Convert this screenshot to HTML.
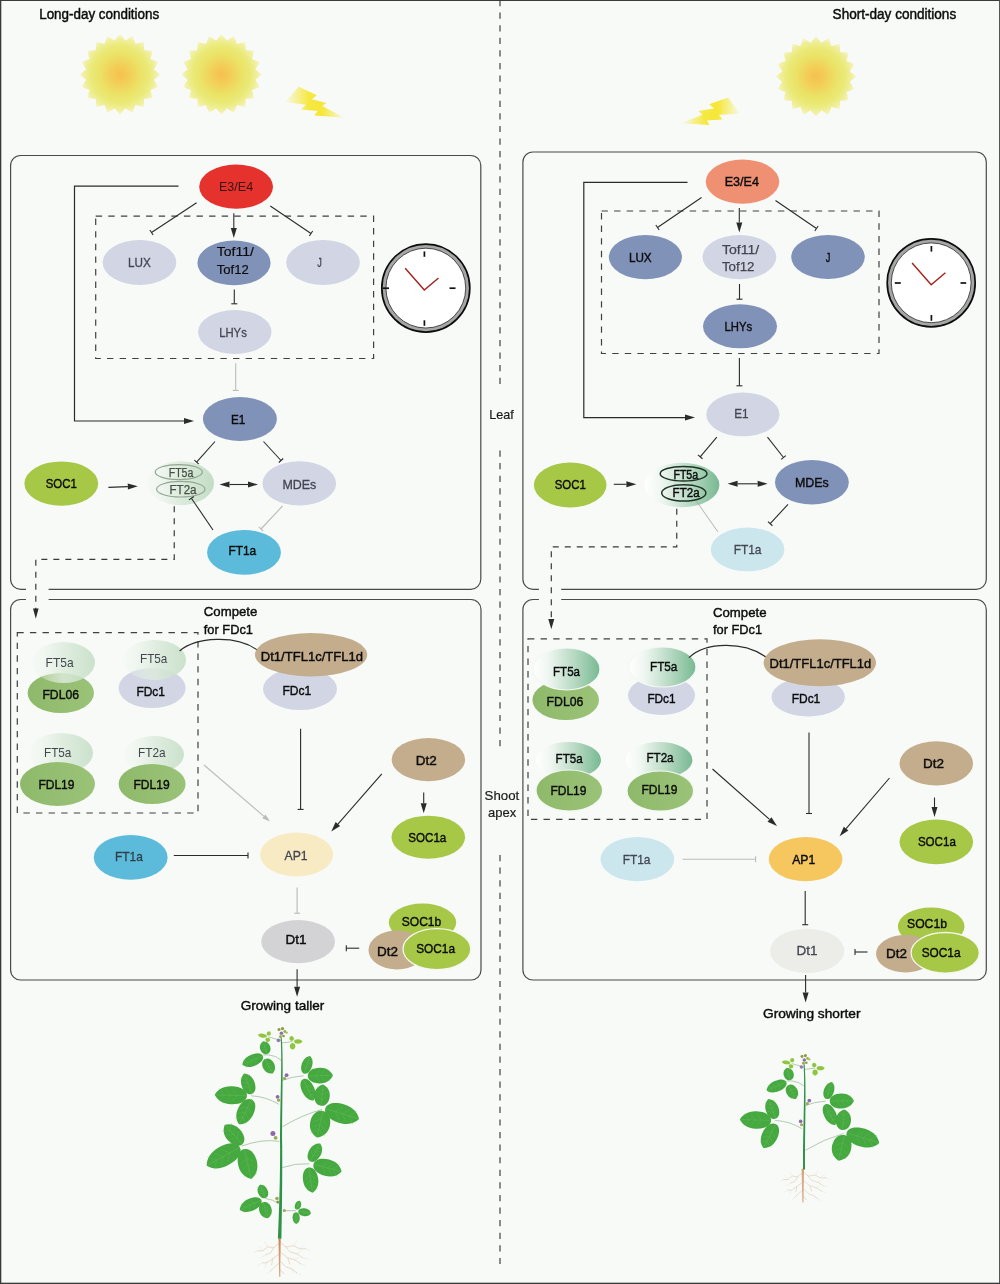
<!DOCTYPE html>
<html><head><meta charset="utf-8"><title>figure</title>
<style>
html,body{margin:0;padding:0;background:#f7faf7;}
svg{display:block;font-family:"Liberation Sans",sans-serif;}
</style></head><body>
<svg width="1000" height="1284" viewBox="0 0 1000 1284" style="opacity:0.9999">
<defs>
<radialGradient id="sun" cx="50%" cy="50%" r="50%">
<stop offset="0" stop-color="#f6c04f"/><stop offset="0.22" stop-color="#f3cd57"/>
<stop offset="0.5" stop-color="#ebe266"/><stop offset="0.72" stop-color="#eaea78"/>
<stop offset="0.9" stop-color="#f1f0a4"/><stop offset="1" stop-color="#f7f7d6"/></radialGradient>
<filter id="b1" x="-10%" y="-10%" width="120%" height="120%"><feGaussianBlur stdDeviation="0.75"/></filter>
<filter id="b2" x="-10%" y="-10%" width="120%" height="120%"><feGaussianBlur stdDeviation="0.6"/></filter>
<linearGradient id="boltL" x1="0" y1="0" x2="1" y2="0">
<stop offset="0" stop-color="#f6e738" stop-opacity="0.05"/><stop offset="0.4" stop-color="#f6e738" stop-opacity="0.95"/>
<stop offset="0.62" stop-color="#f6e738" stop-opacity="1"/><stop offset="1" stop-color="#f6e738" stop-opacity="0.05"/></linearGradient>
<linearGradient id="ftL" x1="0" y1="0" x2="1" y2="0">
<stop offset="0" stop-color="#eef5ee" stop-opacity="0.2"/><stop offset="0.5" stop-color="#dcebdc"/>
<stop offset="1" stop-color="#c3ddc4"/></linearGradient>
<linearGradient id="ftR" x1="0" y1="0" x2="1" y2="0">
<stop offset="0" stop-color="#ffffff"/><stop offset="0.22" stop-color="#f0f7f2"/><stop offset="0.6" stop-color="#b9dac4"/>
<stop offset="1" stop-color="#78b992"/></linearGradient>
<linearGradient id="fdl" x1="0" y1="0" x2="1" y2="0">
<stop offset="0" stop-color="#8fb96a"/><stop offset="1" stop-color="#9ac378"/></linearGradient>
<path id="leaf" d="M-0.5,0 C-0.5,-0.3 -0.3,-0.5 -0.02,-0.5 C0.26,-0.5 0.42,-0.27 0.5,0 C0.42,0.27 0.26,0.5 -0.02,0.5 C-0.3,0.5 -0.5,0.3 -0.5,0Z"/>
</defs>
<rect x="0" y="0" width="1000" height="1284" fill="#f7faf7"/>

<rect x="0" y="0" width="1000" height="1.0" fill="#3a3a3a"/>
<rect x="0" y="0" width="1.3" height="1284" fill="#3a3a3a"/>
<rect x="999.1" y="0" width="0.9" height="1284" fill="#444"/>
<rect x="0" y="1282.7" width="1000" height="1.3" fill="#3a3a3a"/>
<line x1="500" y1="0" x2="500" y2="384" stroke="#3a3a3a" stroke-width="1.15" stroke-dasharray="6.2 6.39"/>
<line x1="500" y1="450.5" x2="500" y2="751.5" stroke="#3a3a3a" stroke-width="1.15" stroke-dasharray="6.2 6.39"/>
<line x1="500" y1="855" x2="500" y2="1264" stroke="#3a3a3a" stroke-width="1.15" stroke-dasharray="6.2 6.39"/>
<text x="39.20" y="18.80" textLength="120.00" lengthAdjust="spacingAndGlyphs" font-size="14" fill="#0c0c0c" stroke="#0c0c0c" stroke-width="0.45">Long-day conditions</text>
<text x="832.60" y="18.80" textLength="123.60" lengthAdjust="spacingAndGlyphs" font-size="14" fill="#0c0c0c" stroke="#0c0c0c" stroke-width="0.45">Short-day conditions</text>
<text x="489.20" y="418.80" textLength="24.60" lengthAdjust="spacingAndGlyphs" font-size="13.5" fill="#1a1a1a" stroke="#1a1a1a" stroke-width="0.2">Leaf</text>
<text x="484.60" y="799.80" textLength="34.60" lengthAdjust="spacingAndGlyphs" font-size="13.5" fill="#1a1a1a" stroke="#1a1a1a" stroke-width="0.2">Shoot</text>
<text x="488.00" y="817.40" textLength="28.20" lengthAdjust="spacingAndGlyphs" font-size="13.5" fill="#1a1a1a" stroke="#1a1a1a" stroke-width="0.2">apex</text>
<polygon filter="url(#b1)" fill="url(#sun)" points="120.00,34.10 125.35,40.72 132.48,36.08 135.53,44.03 143.75,41.82 144.18,50.32 152.68,50.75 150.47,58.97 158.42,62.02 153.78,69.15 160.40,74.50 153.78,79.85 158.42,86.98 150.47,90.03 152.68,98.25 144.18,98.68 143.75,107.18 135.53,104.97 132.48,112.92 125.35,108.28 120.00,114.90 114.65,108.28 107.52,112.92 104.47,104.97 96.25,107.18 95.82,98.68 87.32,98.25 89.53,90.03 81.58,86.98 86.22,79.85 79.60,74.50 86.22,69.15 81.58,62.02 89.53,58.97 87.32,50.75 95.82,50.32 96.25,41.82 104.47,44.03 107.52,36.08 114.65,40.72"/>
<polygon filter="url(#b1)" fill="url(#sun)" points="221.50,34.10 226.85,40.72 233.98,36.08 237.03,44.03 245.25,41.82 245.68,50.32 254.18,50.75 251.97,58.97 259.92,62.02 255.28,69.15 261.90,74.50 255.28,79.85 259.92,86.98 251.97,90.03 254.18,98.25 245.68,98.68 245.25,107.18 237.03,104.97 233.98,112.92 226.85,108.28 221.50,114.90 216.15,108.28 209.02,112.92 205.97,104.97 197.75,107.18 197.32,98.68 188.82,98.25 191.03,90.03 183.08,86.98 187.72,79.85 181.10,74.50 187.72,69.15 183.08,62.02 191.03,58.97 188.82,50.75 197.32,50.32 197.75,41.82 205.97,44.03 209.02,36.08 216.15,40.72"/>
<polygon filter="url(#b1)" fill="url(#sun)" points="816.00,36.10 821.35,42.72 828.48,38.08 831.53,46.03 839.75,43.82 840.18,52.32 848.68,52.75 846.47,60.97 854.42,64.02 849.78,71.15 856.40,76.50 849.78,81.85 854.42,88.98 846.47,92.03 848.68,100.25 840.18,100.68 839.75,109.18 831.53,106.97 828.48,114.92 821.35,110.28 816.00,116.90 810.65,110.28 803.52,114.92 800.47,106.97 792.25,109.18 791.82,100.68 783.32,100.25 785.53,92.03 777.58,88.98 782.22,81.85 775.60,76.50 782.22,71.15 777.58,64.02 785.53,60.97 783.32,52.75 791.82,52.32 792.25,43.82 800.47,46.03 803.52,38.08 810.65,42.72"/>
<polygon filter="url(#b2)" fill="url(#boltL)" points="298.8,86.7 316.8,95.2 311.9,99.3 326.7,102.9 322.2,106 344.7,117.7 314.1,115.5 317.7,111 301,109.6 306,104.7 284.9,102"/>
<polygon filter="url(#b2)" fill="url(#boltL)" points="728,97.6 709.1,104.3 714.1,108.4 698.3,111 702.4,114.7 681.2,123.2 709.6,125 706.9,120.5 722.6,119.6 719,114.7 740.2,113.8"/>
<rect x="10.6" y="155.5" width="470.20" height="433.80" rx="10" ry="10" fill="none" stroke="#4a4a4a" stroke-width="1.2"/>
<rect x="10.6" y="599.5" width="470.40" height="380.50" rx="10" ry="10" fill="none" stroke="#4a4a4a" stroke-width="1.2"/>
<rect x="522.9" y="152" width="463.40" height="437.30" rx="10" ry="10" fill="none" stroke="#4a4a4a" stroke-width="1.2"/>
<rect x="522.9" y="599.5" width="463.40" height="380.50" rx="10" ry="10" fill="none" stroke="#4a4a4a" stroke-width="1.2"/>
<rect x="26" y="585" width="22.6" height="18" fill="#f7faf7"/>
<rect x="538.9" y="585" width="22.3" height="18" fill="#f7faf7"/>
<polyline points="178.5,186.2 74.5,186.2 74.5,421 185,421" fill="none" stroke="#2b2b2b" stroke-width="1.2"/>
<polygon points="194.00,421.00 184.00,424.00 184.00,418.00" fill="#2b2b2b"/>
<rect x="95.7" y="216.2" width="277.90" height="142.30" fill="none" stroke="#404040" stroke-width="1.2" stroke-dasharray="6.4 6.2"/>
<ellipse cx="236.1" cy="186.7" rx="36.9" ry="22.1" fill="#e5322c" />
<text x="218.99" y="191.00" textLength="34.21" lengthAdjust="spacingAndGlyphs" font-size="13.5" fill="#3b1212">E3/E4</text>
<line x1="196.6" y1="202.7" x2="151.5" y2="232.5" stroke="#2b2b2b" stroke-width="1.1" />
<line x1="149.85" y1="230.00" x2="153.15" y2="235.00" stroke="#2b2b2b" stroke-width="1.1" />
<line x1="270.3" y1="206" x2="311" y2="233.5" stroke="#2b2b2b" stroke-width="1.1" />
<line x1="309.32" y1="235.99" x2="312.68" y2="231.01" stroke="#2b2b2b" stroke-width="1.1" />
<polygon points="233.80,238.00 230.80,228.00 236.80,228.00" fill="#2b2b2b"/>
<line x1="233.80" y1="213.20" x2="233.80" y2="228.00" stroke="#2b2b2b" stroke-width="1.1" />
<ellipse cx="139.5" cy="262.5" rx="36.8" ry="22.4" fill="#d1d5e4" />
<text x="128.12" y="267.00" textLength="22.77" lengthAdjust="spacingAndGlyphs" font-size="13.5" fill="#43464f" stroke="#43464f" stroke-width="0.3">LUX</text>
<ellipse cx="234" cy="262.9" rx="36.6" ry="22.4" fill="#8192b9" />
<text x="216.70" y="256.40" textLength="37.20" lengthAdjust="spacingAndGlyphs" font-size="13.5" fill="#0c0c0c" stroke="#0c0c0c" stroke-width="0.2">Tof11/</text>
<text x="216.80" y="274.20" textLength="32.00" lengthAdjust="spacingAndGlyphs" font-size="13.5" fill="#0c0c0c" stroke="#0c0c0c" stroke-width="0.2">Tof12</text>
<ellipse cx="323" cy="262.5" rx="36.8" ry="22.4" fill="#d1d5e4" />
<text x="317.30" y="267.00" textLength="4.59" lengthAdjust="spacingAndGlyphs" font-size="13.5" fill="#43464f" stroke="#43464f" stroke-width="0.3">J</text>
<line x1="234.3" y1="289.5" x2="234.3" y2="303.8" stroke="#2b2b2b" stroke-width="1.1" />
<line x1="231.30" y1="303.80" x2="237.30" y2="303.80" stroke="#2b2b2b" stroke-width="1.1" />
<ellipse cx="234.8" cy="332" rx="36.7" ry="22" fill="#d1d5e4" />
<text x="219.17" y="336.80" textLength="27.66" lengthAdjust="spacingAndGlyphs" font-size="13.5" fill="#43464f" stroke="#43464f" stroke-width="0.3">LHYs</text>
<line x1="235.7" y1="363.2" x2="235.7" y2="390.4" stroke="#b9bcbc" stroke-width="1.1" />
<line x1="232.70" y1="390.40" x2="238.70" y2="390.40" stroke="#b9bcbc" stroke-width="1.1" />
<ellipse cx="239.9" cy="419" rx="37" ry="22" fill="#8192b9" />
<text x="231.04" y="423.60" textLength="14.33" lengthAdjust="spacingAndGlyphs" font-size="13.5" fill="#0c0c0c" stroke="#0c0c0c" stroke-width="0.42">E1</text>
<line x1="215" y1="441.5" x2="196.6" y2="462.2" stroke="#2b2b2b" stroke-width="1.1" />
<line x1="194.36" y1="460.21" x2="198.84" y2="464.19" stroke="#2b2b2b" stroke-width="1.1" />
<line x1="263.5" y1="441.5" x2="281" y2="460.5" stroke="#2b2b2b" stroke-width="1.1" />
<line x1="278.79" y1="462.53" x2="283.21" y2="458.47" stroke="#2b2b2b" stroke-width="1.1" />
<ellipse cx="61.3" cy="483.6" rx="36.9" ry="22.2" fill="#a7c746" />
<text x="45.74" y="487.80" textLength="31.12" lengthAdjust="spacingAndGlyphs" font-size="13.5" fill="#0c0c0c" stroke="#0c0c0c" stroke-width="0.42">SOC1</text>
<polygon points="137.80,486.20 127.93,489.61 127.69,483.61" fill="#2b2b2b"/>
<line x1="108.40" y1="487.40" x2="127.81" y2="486.61" stroke="#2b2b2b" stroke-width="1.1" />
<ellipse cx="180.7" cy="483.2" rx="33.3" ry="22" fill="url(#ftL)" />
<ellipse cx="178.8" cy="472.1" rx="23.6" ry="7.5" fill="none" stroke="#93a593" stroke-width="1.15"/>
<ellipse cx="180.8" cy="489.2" rx="24.2" ry="7.8" fill="none" stroke="#93a593" stroke-width="1.15"/>
<text x="168.70" y="476.60" textLength="24.60" lengthAdjust="spacingAndGlyphs" font-size="12" fill="#465046" stroke="#465046" stroke-width="0.25">FT5a</text>
<text x="169.50" y="494.00" textLength="27.00" lengthAdjust="spacingAndGlyphs" font-size="12" fill="#465046" stroke="#465046" stroke-width="0.25">FT2a</text>
<polygon points="258.00,484.50 248.00,487.50 248.00,481.50" fill="#2b2b2b"/>
<polygon points="219.50,484.50 229.50,481.50 229.50,487.50" fill="#2b2b2b"/>
<line x1="229.50" y1="484.50" x2="248.00" y2="484.50" stroke="#2b2b2b" stroke-width="1.1" />
<ellipse cx="299.3" cy="483.4" rx="36.8" ry="22.1" fill="#d1d5e4" />
<text x="282.39" y="488.60" textLength="33.83" lengthAdjust="spacingAndGlyphs" font-size="13.5" fill="#43464f" stroke="#43464f" stroke-width="0.3">MDEs</text>
<line x1="282.5" y1="506" x2="261" y2="529" stroke="#b9bcbc" stroke-width="1.1" />
<line x1="258.81" y1="526.95" x2="263.19" y2="531.05" stroke="#b9bcbc" stroke-width="1.1" />
<ellipse cx="244" cy="552.4" rx="36.9" ry="22.4" fill="#5cbbda" />
<text x="228.39" y="554.80" textLength="27.82" lengthAdjust="spacingAndGlyphs" font-size="13.5" fill="#0c0c0c" stroke="#0c0c0c" stroke-width="0.42">FT1a</text>
<line x1="213" y1="530" x2="191.4" y2="498.2" stroke="#2b2b2b" stroke-width="1.1" />
<line x1="193.88" y1="496.51" x2="188.92" y2="499.89" stroke="#2b2b2b" stroke-width="1.1" />
<polyline points="174.25,506.3 174.25,559.4 35.8,559.4 35.8,610" fill="none" stroke="#3a3a3a" stroke-width="1.2" stroke-dasharray="6 6"/>
<polygon points="35.80,618.80 33.00,608.60 38.60,608.60" fill="#2b2b2b"/>
<text x="203.80" y="616.40" textLength="53.50" lengthAdjust="spacingAndGlyphs" font-size="13.5" fill="#0c0c0c" stroke="#0c0c0c" stroke-width="0.42">Compete</text>
<text x="203.80" y="633.70" textLength="49.12" lengthAdjust="spacingAndGlyphs" font-size="13.5" fill="#0c0c0c" stroke="#0c0c0c" stroke-width="0.42">for FDc1</text>
<rect x="17.3" y="632.7" width="180.70" height="180.30" fill="none" stroke="#404040" stroke-width="1.2" stroke-dasharray="6.4 6.2"/>
<ellipse cx="60.8" cy="693" rx="33.2" ry="20" fill="url(#fdl)" />
<ellipse cx="63.5" cy="662.5" rx="31.5" ry="20.5" fill="url(#ftL)" opacity="0.85"/>
<text x="45.60" y="667.00" textLength="28.00" lengthAdjust="spacingAndGlyphs" font-size="13.5" fill="#43464f">FT5a</text>
<text x="42.40" y="699.00" textLength="36.60" lengthAdjust="spacingAndGlyphs" font-size="13.5" fill="#0c0c0c" stroke="#0c0c0c" stroke-width="0.42">FDL06</text>
<ellipse cx="152.1" cy="688" rx="33.5" ry="20" fill="#d1d5e4" />
<ellipse cx="154.5" cy="660" rx="31.5" ry="20" fill="url(#ftL)" opacity="0.85"/>
<text x="140.00" y="663.00" textLength="27.40" lengthAdjust="spacingAndGlyphs" font-size="13.5" fill="#43464f">FT5a</text>
<text x="136.40" y="696.00" textLength="28.60" lengthAdjust="spacingAndGlyphs" font-size="13.5" fill="#0c0c0c" stroke="#0c0c0c" stroke-width="0.42">FDc1</text>
<ellipse cx="61" cy="753" rx="32" ry="20" fill="url(#ftL)" opacity="0.85"/>
<ellipse cx="57.5" cy="784" rx="37.5" ry="22" fill="url(#fdl)" />
<text x="44.00" y="756.60" textLength="27.40" lengthAdjust="spacingAndGlyphs" font-size="13.5" fill="#43464f">FT5a</text>
<text x="38.40" y="789.00" textLength="36.00" lengthAdjust="spacingAndGlyphs" font-size="13.5" fill="#0c0c0c" stroke="#0c0c0c" stroke-width="0.42">FDL19</text>
<ellipse cx="154" cy="754.5" rx="30" ry="18.5" fill="url(#ftL)" opacity="0.85"/>
<ellipse cx="152.1" cy="784" rx="33.5" ry="20" fill="url(#fdl)" />
<text x="138.00" y="757.40" textLength="27.60" lengthAdjust="spacingAndGlyphs" font-size="13.5" fill="#43464f">FT2a</text>
<text x="133.40" y="789.00" textLength="36.20" lengthAdjust="spacingAndGlyphs" font-size="13.5" fill="#0c0c0c" stroke="#0c0c0c" stroke-width="0.42">FDL19</text>
<path d="M179.6,651 C196,637 236,634.5 257.5,650.2" fill="none" stroke="#2b2b2b" stroke-width="1.2"/>
<ellipse cx="300" cy="689" rx="37" ry="21" fill="#d1d5e4" />
<text x="282.50" y="695.00" textLength="28.80" lengthAdjust="spacingAndGlyphs" font-size="13.5" fill="#0c0c0c" stroke="#0c0c0c" stroke-width="0.42">FDc1</text>
<ellipse cx="311.1" cy="654.7" rx="56.1" ry="21.7" fill="#c3ad8c" />
<text x="260.75" y="660.60" textLength="102.30" lengthAdjust="spacingAndGlyphs" font-size="13.5" fill="#0c0c0c" stroke="#0c0c0c" stroke-width="0.42">Dt1/TFL1c/TFL1d</text>
<line x1="300.6" y1="728.7" x2="300.6" y2="809.4" stroke="#2b2b2b" stroke-width="1.1" />
<line x1="297.60" y1="809.40" x2="303.60" y2="809.40" stroke="#2b2b2b" stroke-width="1.1" />
<polygon points="270.00,821.50 262.30,818.20 265.55,814.40" fill="#b9bcbc"/>
<line x1="204.00" y1="765.00" x2="263.92" y2="816.30" stroke="#b9bcbc" stroke-width="1.1" />
<ellipse cx="428.4" cy="759.6" rx="36.7" ry="21.6" fill="#c3ad8c" />
<text x="415.81" y="764.60" textLength="20.98" lengthAdjust="spacingAndGlyphs" font-size="13.5" fill="#0c0c0c" stroke="#0c0c0c" stroke-width="0.42">Dt2</text>
<polygon points="331.30,831.60 335.62,822.10 340.14,826.04" fill="#2b2b2b"/>
<line x1="381.80" y1="773.80" x2="337.88" y2="824.07" stroke="#2b2b2b" stroke-width="1.1" />
<polygon points="423.70,813.30 420.70,803.30 426.70,803.30" fill="#2b2b2b"/>
<line x1="423.70" y1="792.50" x2="423.70" y2="803.30" stroke="#2b2b2b" stroke-width="1.1" />
<ellipse cx="428.3" cy="837.2" rx="36.8" ry="21.5" fill="#a7c746" />
<text x="408.29" y="842.00" textLength="38.02" lengthAdjust="spacingAndGlyphs" font-size="13.5" fill="#0c0c0c" stroke="#0c0c0c" stroke-width="0.42">SOC1a</text>
<ellipse cx="130.7" cy="857.4" rx="36.9" ry="22.4" fill="#5cbbda" />
<text x="114.99" y="860.80" textLength="27.82" lengthAdjust="spacingAndGlyphs" font-size="13.5" fill="#2f3d48" stroke="#2f3d48" stroke-width="0.3">FT1a</text>
<line x1="173.8" y1="855.5" x2="248" y2="855.5" stroke="#2b2b2b" stroke-width="1.1" />
<line x1="248.00" y1="858.50" x2="248.00" y2="852.50" stroke="#2b2b2b" stroke-width="1.1" />
<ellipse cx="296.6" cy="854.5" rx="36.5" ry="21.9" fill="#f8ebc3" />
<text x="284.56" y="860.00" textLength="23.08" lengthAdjust="spacingAndGlyphs" font-size="13.5" fill="#43464f" stroke="#43464f" stroke-width="0.3">AP1</text>
<line x1="297.1" y1="887.5" x2="297.1" y2="913.2" stroke="#b9bcbc" stroke-width="1.1" />
<line x1="294.10" y1="913.20" x2="300.10" y2="913.20" stroke="#b9bcbc" stroke-width="1.1" />
<ellipse cx="298.1" cy="941.6" rx="36.9" ry="21.6" fill="#d3d2d4" />
<text x="285.41" y="944.40" textLength="20.98" lengthAdjust="spacingAndGlyphs" font-size="13.5" fill="#0c0c0c" stroke="#0c0c0c" stroke-width="0.42">Dt1</text>
<line x1="359.2" y1="948.2" x2="346.3" y2="948.2" stroke="#2b2b2b" stroke-width="1.1" />
<line x1="346.30" y1="945.20" x2="346.30" y2="951.20" stroke="#2b2b2b" stroke-width="1.1" />
<ellipse cx="422.5" cy="922.6" rx="33.7" ry="19" fill="#a7c746" />
<ellipse cx="397" cy="950" rx="28.5" ry="19.5" fill="#c3ad8c" />
<ellipse cx="436.9" cy="949.1" rx="33.9" ry="20.5" fill="#a7c746" stroke="#f4f7ee" stroke-width="1.3"/>
<text x="401.75" y="925.80" textLength="39.50" lengthAdjust="spacingAndGlyphs" font-size="13.5" fill="#0c0c0c" stroke="#0c0c0c" stroke-width="0.42">SOC1b</text>
<text x="377.01" y="955.50" textLength="20.98" lengthAdjust="spacingAndGlyphs" font-size="13.5" fill="#0c0c0c" stroke="#0c0c0c" stroke-width="0.42">Dt2</text>
<text x="416.20" y="952.60" textLength="38.80" lengthAdjust="spacingAndGlyphs" font-size="13.5" fill="#0c0c0c" stroke="#0c0c0c" stroke-width="0.42">SOC1a</text>
<polygon points="297.10,996.80 294.10,986.80 300.10,986.80" fill="#2b2b2b"/>
<line x1="297.10" y1="969.20" x2="297.10" y2="986.80" stroke="#2b2b2b" stroke-width="1.1" />
<text x="240.80" y="1010.00" textLength="83.40" lengthAdjust="spacingAndGlyphs" font-size="13.5" fill="#0c0c0c" stroke="#0c0c0c" stroke-width="0.42">Growing taller</text>
<polyline points="687.5,182.4 583.8,182.4 583.8,417.6 686,417.6" fill="none" stroke="#2b2b2b" stroke-width="1.2"/>
<polygon points="695.00,417.60 685.00,420.60 685.00,414.60" fill="#2b2b2b"/>
<rect x="601.5" y="211" width="277.50" height="142.50" fill="none" stroke="#404040" stroke-width="1.2" stroke-dasharray="6.4 6.2"/>
<ellipse cx="742.5" cy="181.6" rx="36.8" ry="22.1" fill="#f09072" />
<text x="724.69" y="186.30" textLength="34.21" lengthAdjust="spacingAndGlyphs" font-size="13.5" fill="#0c0c0c" stroke="#0c0c0c" stroke-width="0.42">E3/E4</text>
<line x1="701.5" y1="197.5" x2="657.5" y2="227.5" stroke="#2b2b2b" stroke-width="1.1" />
<line x1="655.81" y1="225.02" x2="659.19" y2="229.98" stroke="#2b2b2b" stroke-width="1.1" />
<line x1="775.5" y1="200.5" x2="816.5" y2="228.5" stroke="#2b2b2b" stroke-width="1.1" />
<line x1="814.81" y1="230.98" x2="818.19" y2="226.02" stroke="#2b2b2b" stroke-width="1.1" />
<polygon points="739.30,232.50 736.30,222.50 742.30,222.50" fill="#2b2b2b"/>
<line x1="739.30" y1="208.00" x2="739.30" y2="222.50" stroke="#2b2b2b" stroke-width="1.1" />
<ellipse cx="645.4" cy="257.1" rx="36.6" ry="22.1" fill="#8192b9" />
<text x="628.92" y="261.80" textLength="22.77" lengthAdjust="spacingAndGlyphs" font-size="13.5" fill="#0c0c0c" stroke="#0c0c0c" stroke-width="0.42">LUX</text>
<ellipse cx="739.4" cy="257.1" rx="36.9" ry="22.1" fill="#d1d5e4" />
<text x="721.95" y="253.70" textLength="37.30" lengthAdjust="spacingAndGlyphs" font-size="13.5" fill="#43464f" stroke="#43464f" stroke-width="0.25">Tof11/</text>
<text x="721.95" y="271.20" textLength="32.50" lengthAdjust="spacingAndGlyphs" font-size="13.5" fill="#43464f" stroke="#43464f" stroke-width="0.25">Tof12</text>
<ellipse cx="828" cy="257" rx="36.8" ry="22" fill="#8192b9" />
<text x="825.70" y="261.80" textLength="4.59" lengthAdjust="spacingAndGlyphs" font-size="13.5" fill="#0c0c0c" stroke="#0c0c0c" stroke-width="0.42">J</text>
<line x1="739.5" y1="284" x2="739.5" y2="299.2" stroke="#2b2b2b" stroke-width="1.1" />
<line x1="736.50" y1="299.20" x2="742.50" y2="299.20" stroke="#2b2b2b" stroke-width="1.1" />
<ellipse cx="740" cy="326.3" rx="37" ry="22" fill="#8192b9" />
<text x="724.47" y="331.30" textLength="27.66" lengthAdjust="spacingAndGlyphs" font-size="13.5" fill="#0c0c0c" stroke="#0c0c0c" stroke-width="0.42">LHYs</text>
<line x1="739.4" y1="358" x2="739.4" y2="385.8" stroke="#2b2b2b" stroke-width="1.1" />
<line x1="736.40" y1="385.80" x2="742.40" y2="385.80" stroke="#2b2b2b" stroke-width="1.1" />
<ellipse cx="742.9" cy="414.4" rx="36.6" ry="21.9" fill="#d1d5e4" />
<text x="734.14" y="418.20" textLength="14.33" lengthAdjust="spacingAndGlyphs" font-size="13.5" fill="#43464f" stroke="#43464f" stroke-width="0.3">E1</text>
<line x1="716.8" y1="437.2" x2="700.2" y2="456.8" stroke="#2b2b2b" stroke-width="1.1" />
<line x1="697.91" y1="454.86" x2="702.49" y2="458.74" stroke="#2b2b2b" stroke-width="1.1" />
<line x1="767.5" y1="437.2" x2="783.5" y2="457.5" stroke="#2b2b2b" stroke-width="1.1" />
<line x1="781.14" y1="459.36" x2="785.86" y2="455.64" stroke="#2b2b2b" stroke-width="1.1" />
<ellipse cx="570.2" cy="485" rx="36.3" ry="22.4" fill="#a7c746" />
<text x="554.64" y="489.40" textLength="31.12" lengthAdjust="spacingAndGlyphs" font-size="13.5" fill="#0c0c0c" stroke="#0c0c0c" stroke-width="0.42">SOC1</text>
<polygon points="636.40,484.30 626.40,487.30 626.40,481.30" fill="#2b2b2b"/>
<line x1="613.80" y1="484.30" x2="626.40" y2="484.30" stroke="#2b2b2b" stroke-width="1.1" />
<ellipse cx="681.9" cy="485" rx="37.5" ry="22.2" fill="url(#ftR)" />
<ellipse cx="683.6" cy="473.7" rx="23.4" ry="7.3" fill="none" stroke="#1d3323" stroke-width="1.45"/>
<ellipse cx="683.8" cy="492.9" rx="22.1" ry="8.2" fill="none" stroke="#1d3323" stroke-width="1.45"/>
<text x="673.45" y="478.60" textLength="24.70" lengthAdjust="spacingAndGlyphs" font-size="12.3" fill="#0c0c0c" stroke="#0c0c0c" stroke-width="0.45">FT5a</text>
<text x="672.60" y="496.90" textLength="27.00" lengthAdjust="spacingAndGlyphs" font-size="12.6" fill="#0c0c0c" stroke="#0c0c0c" stroke-width="0.45">FT2a</text>
<polygon points="767.60,483.80 757.60,486.80 757.60,480.80" fill="#2b2b2b"/>
<polygon points="727.60,483.80 737.60,480.80 737.60,486.80" fill="#2b2b2b"/>
<line x1="737.60" y1="483.80" x2="757.60" y2="483.80" stroke="#2b2b2b" stroke-width="1.1" />
<ellipse cx="811.9" cy="482.2" rx="36.9" ry="22.2" fill="#8192b9" />
<text x="794.99" y="486.60" textLength="33.83" lengthAdjust="spacingAndGlyphs" font-size="13.5" fill="#0c0c0c" stroke="#0c0c0c" stroke-width="0.42">MDEs</text>
<line x1="788" y1="504.3" x2="770.2" y2="523.7" stroke="#2b2b2b" stroke-width="1.1" />
<line x1="767.99" y1="521.67" x2="772.41" y2="525.73" stroke="#2b2b2b" stroke-width="1.1" />
<ellipse cx="747.6" cy="549.4" rx="36.8" ry="21.9" fill="#cce6ee" />
<text x="733.69" y="553.80" textLength="27.82" lengthAdjust="spacingAndGlyphs" font-size="13.5" fill="#43464f" stroke="#43464f" stroke-width="0.3">FT1a</text>
<line x1="718" y1="532" x2="696.3" y2="501" stroke="#a9acac" stroke-width="0.9" />
<polyline points="676.75,508.8 676.75,546.8 551.3,546.8 551.3,620" fill="none" stroke="#3a3a3a" stroke-width="1.2" stroke-dasharray="6 6"/>
<polygon points="551.30,629.30 548.30,618.90 554.30,618.90" fill="#2b2b2b"/>
<text x="713.00" y="617.00" textLength="53.50" lengthAdjust="spacingAndGlyphs" font-size="13.5" fill="#0c0c0c" stroke="#0c0c0c" stroke-width="0.42">Compete</text>
<text x="713.00" y="634.40" textLength="49.12" lengthAdjust="spacingAndGlyphs" font-size="13.5" fill="#0c0c0c" stroke="#0c0c0c" stroke-width="0.42">for FDc1</text>
<rect x="528" y="638.9" width="179.00" height="180.50" fill="none" stroke="#404040" stroke-width="1.2" stroke-dasharray="6.4 6.2"/>
<ellipse cx="565.7" cy="700" rx="33.3" ry="20" fill="url(#fdl)" />
<ellipse cx="566.5" cy="669" rx="33.5" ry="21" fill="url(#ftR)" stroke="#f4f8f3" stroke-width="1.2"/>
<text x="553.00" y="675.60" textLength="27.00" lengthAdjust="spacingAndGlyphs" font-size="13.5" fill="#0c0c0c" stroke="#0c0c0c" stroke-width="0.42">FT5a</text>
<text x="546.60" y="706.00" textLength="36.80" lengthAdjust="spacingAndGlyphs" font-size="13.5" fill="#0c0c0c" stroke="#0c0c0c" stroke-width="0.42">FDL06</text>
<ellipse cx="661.5" cy="695.5" rx="33.5" ry="19.5" fill="#d1d5e4" />
<ellipse cx="662.5" cy="667" rx="33.5" ry="20" fill="url(#ftR)" stroke="#f4f8f3" stroke-width="1.2"/>
<text x="650.00" y="671.40" textLength="27.40" lengthAdjust="spacingAndGlyphs" font-size="13.5" fill="#0c0c0c" stroke="#0c0c0c" stroke-width="0.42">FT5a</text>
<text x="647.40" y="703.00" textLength="28.20" lengthAdjust="spacingAndGlyphs" font-size="13.5" fill="#0c0c0c" stroke="#0c0c0c" stroke-width="0.42">FDc1</text>
<ellipse cx="568.5" cy="760" rx="32.5" ry="18" fill="url(#ftR)" />
<ellipse cx="569.3" cy="790.5" rx="33.3" ry="20.5" fill="url(#fdl)" stroke="#f4f8f3" stroke-width="1.2"/>
<text x="555.60" y="763.00" textLength="27.00" lengthAdjust="spacingAndGlyphs" font-size="13.5" fill="#0c0c0c" stroke="#0c0c0c" stroke-width="0.42">FT5a</text>
<text x="550.40" y="795.00" textLength="36.00" lengthAdjust="spacingAndGlyphs" font-size="13.5" fill="#0c0c0c" stroke="#0c0c0c" stroke-width="0.42">FDL19</text>
<ellipse cx="659.2" cy="760" rx="33.2" ry="18" fill="url(#ftR)" />
<ellipse cx="660.3" cy="791" rx="33.3" ry="20" fill="url(#fdl)" stroke="#f4f8f3" stroke-width="1.2"/>
<text x="646.40" y="762.00" textLength="27.20" lengthAdjust="spacingAndGlyphs" font-size="13.5" fill="#0c0c0c" stroke="#0c0c0c" stroke-width="0.42">FT2a</text>
<text x="641.40" y="794.40" textLength="36.00" lengthAdjust="spacingAndGlyphs" font-size="13.5" fill="#0c0c0c" stroke="#0c0c0c" stroke-width="0.42">FDL19</text>
<path d="M689,657.6 C705,642 745,640 768.5,659" fill="none" stroke="#2b2b2b" stroke-width="1.2"/>
<ellipse cx="808.2" cy="697" rx="36.7" ry="19.5" fill="#d1d5e4" />
<text x="791.70" y="702.50" textLength="28.60" lengthAdjust="spacingAndGlyphs" font-size="13.5" fill="#0c0c0c" stroke="#0c0c0c" stroke-width="0.42">FDc1</text>
<ellipse cx="819.8" cy="662.7" rx="56.2" ry="23.5" fill="#c3ad8c" />
<text x="769.50" y="667.50" textLength="101.80" lengthAdjust="spacingAndGlyphs" font-size="13.5" fill="#0c0c0c" stroke="#0c0c0c" stroke-width="0.42">Dt1/TFL1c/TFL1d</text>
<line x1="809" y1="732.5" x2="809" y2="813.5" stroke="#2b2b2b" stroke-width="1.1" />
<line x1="806.00" y1="813.50" x2="812.00" y2="813.50" stroke="#2b2b2b" stroke-width="1.1" />
<polygon points="777.00,826.00 767.52,821.63 771.49,817.13" fill="#2b2b2b"/>
<line x1="712.50" y1="769.00" x2="769.51" y2="819.38" stroke="#2b2b2b" stroke-width="1.1" />
<ellipse cx="936.3" cy="763.4" rx="36.8" ry="22.1" fill="#c3ad8c" />
<text x="923.01" y="768.00" textLength="20.98" lengthAdjust="spacingAndGlyphs" font-size="13.5" fill="#0c0c0c" stroke="#0c0c0c" stroke-width="0.42">Dt2</text>
<polygon points="839.60,836.20 843.83,826.66 848.39,830.56" fill="#2b2b2b"/>
<line x1="889.50" y1="778.00" x2="846.11" y2="828.61" stroke="#2b2b2b" stroke-width="1.1" />
<polygon points="934.50,817.00 931.50,807.00 937.50,807.00" fill="#2b2b2b"/>
<line x1="934.50" y1="797.50" x2="934.50" y2="807.00" stroke="#2b2b2b" stroke-width="1.1" />
<ellipse cx="936.3" cy="841.9" rx="36.8" ry="22.4" fill="#a7c746" />
<text x="917.89" y="846.30" textLength="38.02" lengthAdjust="spacingAndGlyphs" font-size="13.5" fill="#0c0c0c" stroke="#0c0c0c" stroke-width="0.42">SOC1a</text>
<ellipse cx="637.4" cy="859.1" rx="36.9" ry="22.1" fill="#cce6ee" />
<text x="622.69" y="863.70" textLength="27.82" lengthAdjust="spacingAndGlyphs" font-size="13.5" fill="#43464f" stroke="#43464f" stroke-width="0.3">FT1a</text>
<line x1="682.5" y1="859.2" x2="755.6" y2="859.2" stroke="#b9bcbc" stroke-width="1.1" />
<line x1="755.60" y1="862.20" x2="755.60" y2="856.20" stroke="#b9bcbc" stroke-width="1.1" />
<ellipse cx="805.6" cy="859.1" rx="36.9" ry="22.1" fill="#f6c75f" />
<text x="792.16" y="863.60" textLength="23.08" lengthAdjust="spacingAndGlyphs" font-size="13.5" fill="#0c0c0c" stroke="#0c0c0c" stroke-width="0.42">AP1</text>
<line x1="805.2" y1="891" x2="805.2" y2="924.7" stroke="#2b2b2b" stroke-width="1.1" />
<line x1="802.20" y1="924.70" x2="808.20" y2="924.70" stroke="#2b2b2b" stroke-width="1.1" />
<ellipse cx="807.2" cy="950.9" rx="37.2" ry="22.1" fill="#ecece9" />
<text x="796.41" y="955.00" textLength="20.98" lengthAdjust="spacingAndGlyphs" font-size="13.5" fill="#43464f" stroke="#43464f" stroke-width="0.3">Dt1</text>
<line x1="867.5" y1="952" x2="855" y2="952" stroke="#2b2b2b" stroke-width="1.1" />
<line x1="855.00" y1="949.00" x2="855.00" y2="955.00" stroke="#2b2b2b" stroke-width="1.1" />
<ellipse cx="931.2" cy="926.5" rx="33.3" ry="19" fill="#a7c746" />
<ellipse cx="905.5" cy="953.7" rx="29.5" ry="18.8" fill="#c3ad8c" />
<ellipse cx="945.2" cy="952.8" rx="34.1" ry="20.3" fill="#a7c746" stroke="#f4f7ee" stroke-width="1.3"/>
<text x="907.00" y="928.20" textLength="40.00" lengthAdjust="spacingAndGlyphs" font-size="13.5" fill="#0c0c0c" stroke="#0c0c0c" stroke-width="0.42">SOC1b</text>
<text x="886.01" y="957.60" textLength="20.98" lengthAdjust="spacingAndGlyphs" font-size="13.5" fill="#0c0c0c" stroke="#0c0c0c" stroke-width="0.42">Dt2</text>
<text x="921.70" y="957.00" textLength="38.80" lengthAdjust="spacingAndGlyphs" font-size="13.5" fill="#0c0c0c" stroke="#0c0c0c" stroke-width="0.42">SOC1a</text>
<polygon points="805.60,1002.50 802.60,992.50 808.60,992.50" fill="#2b2b2b"/>
<line x1="805.60" y1="975.00" x2="805.60" y2="992.50" stroke="#2b2b2b" stroke-width="1.1" />
<text x="763.00" y="1017.50" textLength="97.50" lengthAdjust="spacingAndGlyphs" font-size="13.5" fill="#0c0c0c" stroke="#0c0c0c" stroke-width="0.42">Growing shorter</text>
<circle cx="425.8" cy="288.1" r="44" fill="#a6a6a6" stroke="#0c0c0c" stroke-width="1.7"/>
<circle cx="425.8" cy="288.1" r="39.9" fill="#ffffff" stroke="#2a2a2a" stroke-width="0.8"/>
<line x1="424.4" y1="251.4" x2="424.4" y2="256.8" stroke="#111" stroke-width="1.7" />
<line x1="424.4" y1="320.3" x2="424.4" y2="325.8" stroke="#111" stroke-width="1.7" />
<line x1="382.8" y1="288.2" x2="389" y2="288.2" stroke="#111" stroke-width="1.7" />
<line x1="449.5" y1="288.2" x2="455.5" y2="288.2" stroke="#111" stroke-width="1.7" />
<polyline points="405.2,268.3 424.3,290.0 438.5,278.0" fill="none" stroke="#a3231f" stroke-width="1.45"/>
<circle cx="931.2" cy="282.8" r="44" fill="#a6a6a6" stroke="#0c0c0c" stroke-width="1.7"/>
<circle cx="931.2" cy="282.8" r="39.9" fill="#ffffff" stroke="#2a2a2a" stroke-width="0.8"/>
<line x1="931.4" y1="246" x2="931.4" y2="251.6" stroke="#111" stroke-width="1.7" />
<line x1="931.4" y1="315" x2="931.4" y2="320.8" stroke="#111" stroke-width="1.7" />
<line x1="894.8" y1="283" x2="900.8" y2="283" stroke="#111" stroke-width="1.7" />
<line x1="960.5" y1="283" x2="966.2" y2="283" stroke="#111" stroke-width="1.7" />
<polyline points="912.1,263.1 931.2,284.8 945.4,272.8" fill="none" stroke="#a3231f" stroke-width="1.45"/>
<g id="ptop"><path d="M281.8,1060.6 Q276,1055.5 268.9,1054.9 L263.2,1054.9" fill="none" stroke="#a9c4a9" stroke-width="0.9"/><path d="M281.6,1080.6 Q292,1076.5 303.6,1075.8" fill="none" stroke="#a9c4a9" stroke-width="0.9"/><path d="M278.9,1104.3 Q266,1096.5 251.2,1095.8" fill="none" stroke="#a9c4a9" stroke-width="0.9"/><path d="M282.5,1126.7 Q302,1115 322,1109.4" fill="none" stroke="#a9c4a9" stroke-width="0.9"/><path d="M281.2,1040.5 L268.3,1036.9" fill="none" stroke="#a9c4a9" stroke-width="0.9"/><path d="M281.2,1043 L292.6,1041.6" fill="none" stroke="#a9c4a9" stroke-width="0.9"/><path d="M280.6,1037.5 C282.3,1060 280.1,1100 280.1,1146.6 L282.2,1146.6 C282.0,1100 283.7,1060 281.7,1037.5 Z" fill="#2f9247"/><g transform="translate(252.55,1060.35) rotate(156.5)"><use href="#leaf" transform="scale(22.35,11.40)" fill="#45a93f"/><line x1="-11.17" y1="0" x2="10.17" y2="0" stroke="#63ba5b" stroke-width="0.5"/><line x1="-4.47" y1="0" x2="-0.67" y2="-4.10" stroke="#63ba5b" stroke-width="0.35"/><line x1="-4.47" y1="0" x2="-0.67" y2="4.10" stroke="#63ba5b" stroke-width="0.35"/><line x1="0.00" y1="0" x2="3.80" y2="-4.10" stroke="#63ba5b" stroke-width="0.35"/><line x1="0.00" y1="0" x2="3.80" y2="4.10" stroke="#63ba5b" stroke-width="0.35"/><line x1="4.47" y1="0" x2="8.27" y2="-4.10" stroke="#63ba5b" stroke-width="0.35"/><line x1="4.47" y1="0" x2="8.27" y2="4.10" stroke="#63ba5b" stroke-width="0.35"/></g><g transform="translate(265.10,1047.60) rotate(-106.5)"><use href="#leaf" transform="scale(13.35,10.40)" fill="#45a93f"/><line x1="-6.68" y1="0" x2="5.68" y2="0" stroke="#63ba5b" stroke-width="0.5"/><line x1="-2.67" y1="0" x2="-0.40" y2="-3.74" stroke="#63ba5b" stroke-width="0.35"/><line x1="-2.67" y1="0" x2="-0.40" y2="3.74" stroke="#63ba5b" stroke-width="0.35"/><line x1="0.00" y1="0" x2="2.27" y2="-3.74" stroke="#63ba5b" stroke-width="0.35"/><line x1="0.00" y1="0" x2="2.27" y2="3.74" stroke="#63ba5b" stroke-width="0.35"/><line x1="2.67" y1="0" x2="4.94" y2="-3.74" stroke="#63ba5b" stroke-width="0.35"/><line x1="2.67" y1="0" x2="4.94" y2="3.74" stroke="#63ba5b" stroke-width="0.35"/></g><g transform="translate(268.85,1066.30) rotate(61.9)"><use href="#leaf" transform="scale(16.33,11.80)" fill="#45a93f"/><line x1="-8.16" y1="0" x2="7.16" y2="0" stroke="#63ba5b" stroke-width="0.5"/><line x1="-3.27" y1="0" x2="-0.49" y2="-4.25" stroke="#63ba5b" stroke-width="0.35"/><line x1="-3.27" y1="0" x2="-0.49" y2="4.25" stroke="#63ba5b" stroke-width="0.35"/><line x1="0.00" y1="0" x2="2.78" y2="-4.25" stroke="#63ba5b" stroke-width="0.35"/><line x1="0.00" y1="0" x2="2.78" y2="4.25" stroke="#63ba5b" stroke-width="0.35"/><line x1="3.27" y1="0" x2="6.04" y2="-4.25" stroke="#63ba5b" stroke-width="0.35"/><line x1="3.27" y1="0" x2="6.04" y2="4.25" stroke="#63ba5b" stroke-width="0.35"/></g><g transform="translate(248.00,1083.70) rotate(-110.4)"><use href="#leaf" transform="scale(21.77,13.30)" fill="#45a93f"/><line x1="-10.88" y1="0" x2="9.88" y2="0" stroke="#63ba5b" stroke-width="0.5"/><line x1="-4.35" y1="0" x2="-0.65" y2="-4.79" stroke="#63ba5b" stroke-width="0.35"/><line x1="-4.35" y1="0" x2="-0.65" y2="4.79" stroke="#63ba5b" stroke-width="0.35"/><line x1="0.00" y1="0" x2="3.70" y2="-4.79" stroke="#63ba5b" stroke-width="0.35"/><line x1="0.00" y1="0" x2="3.70" y2="4.79" stroke="#63ba5b" stroke-width="0.35"/><line x1="4.35" y1="0" x2="8.05" y2="-4.79" stroke="#63ba5b" stroke-width="0.35"/><line x1="4.35" y1="0" x2="8.05" y2="4.79" stroke="#63ba5b" stroke-width="0.35"/></g><g transform="translate(230.85,1095.30) rotate(-178.2)"><use href="#leaf" transform="scale(32.32,18.00)" fill="#45a93f"/><line x1="-16.16" y1="0" x2="15.16" y2="0" stroke="#63ba5b" stroke-width="0.5"/><line x1="-6.46" y1="0" x2="-0.97" y2="-6.48" stroke="#63ba5b" stroke-width="0.35"/><line x1="-6.46" y1="0" x2="-0.97" y2="6.48" stroke="#63ba5b" stroke-width="0.35"/><line x1="0.00" y1="0" x2="5.49" y2="-6.48" stroke="#63ba5b" stroke-width="0.35"/><line x1="0.00" y1="0" x2="5.49" y2="6.48" stroke="#63ba5b" stroke-width="0.35"/><line x1="6.46" y1="0" x2="11.96" y2="-6.48" stroke="#63ba5b" stroke-width="0.35"/><line x1="6.46" y1="0" x2="11.96" y2="6.48" stroke="#63ba5b" stroke-width="0.35"/></g><g transform="translate(245.40,1111.95) rotate(117.4)"><use href="#leaf" transform="scale(27.82,16.20)" fill="#45a93f"/><line x1="-13.91" y1="0" x2="12.91" y2="0" stroke="#63ba5b" stroke-width="0.5"/><line x1="-5.56" y1="0" x2="-0.83" y2="-5.83" stroke="#63ba5b" stroke-width="0.35"/><line x1="-5.56" y1="0" x2="-0.83" y2="5.83" stroke="#63ba5b" stroke-width="0.35"/><line x1="0.00" y1="0" x2="4.73" y2="-5.83" stroke="#63ba5b" stroke-width="0.35"/><line x1="0.00" y1="0" x2="4.73" y2="5.83" stroke="#63ba5b" stroke-width="0.35"/><line x1="5.56" y1="0" x2="10.29" y2="-5.83" stroke="#63ba5b" stroke-width="0.35"/><line x1="5.56" y1="0" x2="10.29" y2="5.83" stroke="#63ba5b" stroke-width="0.35"/></g><g transform="translate(307.05,1064.70) rotate(-70.9)"><use href="#leaf" transform="scale(18.63,10.40)" fill="#45a93f"/><line x1="-9.31" y1="0" x2="8.31" y2="0" stroke="#63ba5b" stroke-width="0.5"/><line x1="-3.73" y1="0" x2="-0.56" y2="-3.74" stroke="#63ba5b" stroke-width="0.35"/><line x1="-3.73" y1="0" x2="-0.56" y2="3.74" stroke="#63ba5b" stroke-width="0.35"/><line x1="0.00" y1="0" x2="3.17" y2="-3.74" stroke="#63ba5b" stroke-width="0.35"/><line x1="0.00" y1="0" x2="3.17" y2="3.74" stroke="#63ba5b" stroke-width="0.35"/><line x1="3.73" y1="0" x2="6.89" y2="-3.74" stroke="#63ba5b" stroke-width="0.35"/><line x1="3.73" y1="0" x2="6.89" y2="3.74" stroke="#63ba5b" stroke-width="0.35"/></g><g transform="translate(320.35,1075.60) rotate(-0.9)"><use href="#leaf" transform="scale(25.10,15.60)" fill="#45a93f"/><line x1="-12.55" y1="0" x2="11.55" y2="0" stroke="#63ba5b" stroke-width="0.5"/><line x1="-5.02" y1="0" x2="-0.75" y2="-5.62" stroke="#63ba5b" stroke-width="0.35"/><line x1="-5.02" y1="0" x2="-0.75" y2="5.62" stroke="#63ba5b" stroke-width="0.35"/><line x1="0.00" y1="0" x2="4.27" y2="-5.62" stroke="#63ba5b" stroke-width="0.35"/><line x1="0.00" y1="0" x2="4.27" y2="5.62" stroke="#63ba5b" stroke-width="0.35"/><line x1="5.02" y1="0" x2="9.29" y2="-5.62" stroke="#63ba5b" stroke-width="0.35"/><line x1="5.02" y1="0" x2="9.29" y2="5.62" stroke="#63ba5b" stroke-width="0.35"/></g><g transform="translate(308.30,1089.85) rotate(64.0)"><use href="#leaf" transform="scale(23.70,12.40)" fill="#45a93f"/><line x1="-11.85" y1="0" x2="10.85" y2="0" stroke="#63ba5b" stroke-width="0.5"/><line x1="-4.74" y1="0" x2="-0.71" y2="-4.46" stroke="#63ba5b" stroke-width="0.35"/><line x1="-4.74" y1="0" x2="-0.71" y2="4.46" stroke="#63ba5b" stroke-width="0.35"/><line x1="0.00" y1="0" x2="4.03" y2="-4.46" stroke="#63ba5b" stroke-width="0.35"/><line x1="0.00" y1="0" x2="4.03" y2="4.46" stroke="#63ba5b" stroke-width="0.35"/><line x1="4.74" y1="0" x2="8.77" y2="-4.46" stroke="#63ba5b" stroke-width="0.35"/><line x1="4.74" y1="0" x2="8.77" y2="4.46" stroke="#63ba5b" stroke-width="0.35"/></g><g transform="translate(322.05,1095.10) rotate(-84.9)"><use href="#leaf" transform="scale(21.48,15.60)" fill="#45a93f"/><line x1="-10.74" y1="0" x2="9.74" y2="0" stroke="#63ba5b" stroke-width="0.5"/><line x1="-4.30" y1="0" x2="-0.64" y2="-5.62" stroke="#63ba5b" stroke-width="0.35"/><line x1="-4.30" y1="0" x2="-0.64" y2="5.62" stroke="#63ba5b" stroke-width="0.35"/><line x1="0.00" y1="0" x2="3.65" y2="-5.62" stroke="#63ba5b" stroke-width="0.35"/><line x1="0.00" y1="0" x2="3.65" y2="5.62" stroke="#63ba5b" stroke-width="0.35"/><line x1="4.30" y1="0" x2="7.95" y2="-5.62" stroke="#63ba5b" stroke-width="0.35"/><line x1="4.30" y1="0" x2="7.95" y2="5.62" stroke="#63ba5b" stroke-width="0.35"/></g><g transform="translate(342.20,1113.80) rotate(17.4)"><use href="#leaf" transform="scale(35.42,19.00)" fill="#45a93f"/><line x1="-17.71" y1="0" x2="16.71" y2="0" stroke="#63ba5b" stroke-width="0.5"/><line x1="-7.08" y1="0" x2="-1.06" y2="-6.84" stroke="#63ba5b" stroke-width="0.35"/><line x1="-7.08" y1="0" x2="-1.06" y2="6.84" stroke="#63ba5b" stroke-width="0.35"/><line x1="0.00" y1="0" x2="6.02" y2="-6.84" stroke="#63ba5b" stroke-width="0.35"/><line x1="0.00" y1="0" x2="6.02" y2="6.84" stroke="#63ba5b" stroke-width="0.35"/><line x1="7.08" y1="0" x2="13.11" y2="-6.84" stroke="#63ba5b" stroke-width="0.35"/><line x1="7.08" y1="0" x2="13.11" y2="6.84" stroke="#63ba5b" stroke-width="0.35"/></g><g transform="translate(319.95,1124.30) rotate(102.9)"><use href="#leaf" transform="scale(27.29,20.00)" fill="#45a93f"/><line x1="-13.65" y1="0" x2="12.65" y2="0" stroke="#63ba5b" stroke-width="0.5"/><line x1="-5.46" y1="0" x2="-0.82" y2="-7.20" stroke="#63ba5b" stroke-width="0.35"/><line x1="-5.46" y1="0" x2="-0.82" y2="7.20" stroke="#63ba5b" stroke-width="0.35"/><line x1="0.00" y1="0" x2="4.64" y2="-7.20" stroke="#63ba5b" stroke-width="0.35"/><line x1="0.00" y1="0" x2="4.64" y2="7.20" stroke="#63ba5b" stroke-width="0.35"/><line x1="5.46" y1="0" x2="10.10" y2="-7.20" stroke="#63ba5b" stroke-width="0.35"/><line x1="5.46" y1="0" x2="10.10" y2="7.20" stroke="#63ba5b" stroke-width="0.35"/></g><g transform="translate(262.50,1035.65) rotate(-171.8)"><use href="#leaf" transform="scale(9.09,4.00)" fill="#8fc63f"/></g><g transform="translate(268.85,1033.35) rotate(-75.7)"><use href="#leaf" transform="scale(4.44,4.20)" fill="#8fc63f"/></g><g transform="translate(267.65,1039.90) rotate(107.2)"><use href="#leaf" transform="scale(4.40,4.80)" fill="#8fc63f"/></g><g transform="translate(298.30,1041.60) rotate(0.0)"><use href="#leaf" transform="scale(8.40,4.50)" fill="#8fc63f"/></g><g transform="translate(291.65,1038.30) rotate(-102.9)"><use href="#leaf" transform="scale(4.92,4.50)" fill="#8fc63f"/></g><g transform="translate(292.60,1046.35) rotate(90.0)"><use href="#leaf" transform="scale(6.50,5.50)" fill="#8fc63f"/></g><circle cx="279" cy="1029.5" r="1.5" fill="#8a9a3c"/><circle cx="282.5" cy="1028.6" r="1.6" fill="#8a9a3c"/><circle cx="284.8" cy="1031.5" r="1.4" fill="#9aae48"/><circle cx="281.4" cy="1033.2" r="1.8" fill="#8d6fb0"/><circle cx="280.5" cy="1036.5" r="1.5" fill="#9aae48"/><circle cx="278.4" cy="1040.4" r="1.8" fill="#9a78b8"/><circle cx="286.6" cy="1032.6" r="1.2" fill="#a9c053"/><circle cx="283.5" cy="1036" r="1.3" fill="#8a9a3c"/><circle cx="286.6" cy="1075.2" r="1.9" fill="#8e69ab"/><circle cx="284.6" cy="1078.4" r="1.6" fill="#9aa85a"/><circle cx="277.6" cy="1096.8" r="1.9" fill="#8e69ab"/><circle cx="278.6" cy="1100.2" r="1.6" fill="#9aa85a"/></g>
<path d="M279.3,1141.4 Q262,1138.5 241.7,1146.1" fill="none" stroke="#a9c4a9" stroke-width="0.9"/>
<path d="M282.2,1167.6 Q295,1163 309.3,1163.8" fill="none" stroke="#a9c4a9" stroke-width="0.9"/>
<path d="M279.3,1203.7 Q272,1199 265.4,1198.5" fill="none" stroke="#a9c4a9" stroke-width="0.9"/>
<path d="M283.1,1210.7 L296,1210.7" fill="none" stroke="#a9c4a9" stroke-width="0.9"/>
<path d="M280.1,1146 C280.2,1180 279.1,1210 277.9,1238.8 L281.4,1238.8 C282.0,1210 282.4,1180 282.2,1146 Z" fill="#2f9247"/>
<g transform="translate(233.55,1134.50) rotate(-132.1)"><use href="#leaf" transform="scale(26.13,16.20)" fill="#45a93f"/><line x1="-13.06" y1="0" x2="12.06" y2="0" stroke="#63ba5b" stroke-width="0.5"/><line x1="-5.23" y1="0" x2="-0.78" y2="-5.83" stroke="#63ba5b" stroke-width="0.35"/><line x1="-5.23" y1="0" x2="-0.78" y2="5.83" stroke="#63ba5b" stroke-width="0.35"/><line x1="0.00" y1="0" x2="4.44" y2="-5.83" stroke="#63ba5b" stroke-width="0.35"/><line x1="0.00" y1="0" x2="4.44" y2="5.83" stroke="#63ba5b" stroke-width="0.35"/><line x1="5.23" y1="0" x2="9.67" y2="-5.83" stroke="#63ba5b" stroke-width="0.35"/><line x1="5.23" y1="0" x2="9.67" y2="5.83" stroke="#63ba5b" stroke-width="0.35"/></g>
<g transform="translate(223.25,1156.45) rotate(150.8)"><use href="#leaf" transform="scale(37.92,20.00)" fill="#45a93f"/><line x1="-18.96" y1="0" x2="17.96" y2="0" stroke="#63ba5b" stroke-width="0.5"/><line x1="-7.58" y1="0" x2="-1.14" y2="-7.20" stroke="#63ba5b" stroke-width="0.35"/><line x1="-7.58" y1="0" x2="-1.14" y2="7.20" stroke="#63ba5b" stroke-width="0.35"/><line x1="0.00" y1="0" x2="6.45" y2="-7.20" stroke="#63ba5b" stroke-width="0.35"/><line x1="0.00" y1="0" x2="6.45" y2="7.20" stroke="#63ba5b" stroke-width="0.35"/><line x1="7.58" y1="0" x2="14.03" y2="-7.20" stroke="#63ba5b" stroke-width="0.35"/><line x1="7.58" y1="0" x2="14.03" y2="7.20" stroke="#63ba5b" stroke-width="0.35"/></g>
<g transform="translate(247.70,1164.05) rotate(76.8)"><use href="#leaf" transform="scale(30.71,19.00)" fill="#45a93f"/><line x1="-15.35" y1="0" x2="14.35" y2="0" stroke="#63ba5b" stroke-width="0.5"/><line x1="-6.14" y1="0" x2="-0.92" y2="-6.84" stroke="#63ba5b" stroke-width="0.35"/><line x1="-6.14" y1="0" x2="-0.92" y2="6.84" stroke="#63ba5b" stroke-width="0.35"/><line x1="0.00" y1="0" x2="5.22" y2="-6.84" stroke="#63ba5b" stroke-width="0.35"/><line x1="0.00" y1="0" x2="5.22" y2="6.84" stroke="#63ba5b" stroke-width="0.35"/><line x1="6.14" y1="0" x2="11.36" y2="-6.84" stroke="#63ba5b" stroke-width="0.35"/><line x1="6.14" y1="0" x2="11.36" y2="6.84" stroke="#63ba5b" stroke-width="0.35"/></g>
<g transform="translate(315.15,1152.35) rotate(-60.6)"><use href="#leaf" transform="scale(20.55,12.40)" fill="#45a93f"/><line x1="-10.28" y1="0" x2="9.28" y2="0" stroke="#63ba5b" stroke-width="0.5"/><line x1="-4.11" y1="0" x2="-0.62" y2="-4.46" stroke="#63ba5b" stroke-width="0.35"/><line x1="-4.11" y1="0" x2="-0.62" y2="4.46" stroke="#63ba5b" stroke-width="0.35"/><line x1="0.00" y1="0" x2="3.49" y2="-4.46" stroke="#63ba5b" stroke-width="0.35"/><line x1="0.00" y1="0" x2="3.49" y2="4.46" stroke="#63ba5b" stroke-width="0.35"/><line x1="4.11" y1="0" x2="7.60" y2="-4.46" stroke="#63ba5b" stroke-width="0.35"/><line x1="4.11" y1="0" x2="7.60" y2="4.46" stroke="#63ba5b" stroke-width="0.35"/></g>
<g transform="translate(327.55,1167.85) rotate(14.2)"><use href="#leaf" transform="scale(28.98,16.70)" fill="#45a93f"/><line x1="-14.49" y1="0" x2="13.49" y2="0" stroke="#63ba5b" stroke-width="0.5"/><line x1="-5.80" y1="0" x2="-0.87" y2="-6.01" stroke="#63ba5b" stroke-width="0.35"/><line x1="-5.80" y1="0" x2="-0.87" y2="6.01" stroke="#63ba5b" stroke-width="0.35"/><line x1="0.00" y1="0" x2="4.93" y2="-6.01" stroke="#63ba5b" stroke-width="0.35"/><line x1="0.00" y1="0" x2="4.93" y2="6.01" stroke="#63ba5b" stroke-width="0.35"/><line x1="5.80" y1="0" x2="10.72" y2="-6.01" stroke="#63ba5b" stroke-width="0.35"/><line x1="5.80" y1="0" x2="10.72" y2="6.01" stroke="#63ba5b" stroke-width="0.35"/></g>
<g transform="translate(310.70,1180.20) rotate(81.4)"><use href="#leaf" transform="scale(25.48,15.20)" fill="#45a93f"/><line x1="-12.74" y1="0" x2="11.74" y2="0" stroke="#63ba5b" stroke-width="0.5"/><line x1="-5.10" y1="0" x2="-0.76" y2="-5.47" stroke="#63ba5b" stroke-width="0.35"/><line x1="-5.10" y1="0" x2="-0.76" y2="5.47" stroke="#63ba5b" stroke-width="0.35"/><line x1="0.00" y1="0" x2="4.33" y2="-5.47" stroke="#63ba5b" stroke-width="0.35"/><line x1="0.00" y1="0" x2="4.33" y2="5.47" stroke="#63ba5b" stroke-width="0.35"/><line x1="5.10" y1="0" x2="9.43" y2="-5.47" stroke="#63ba5b" stroke-width="0.35"/><line x1="5.10" y1="0" x2="9.43" y2="5.47" stroke="#63ba5b" stroke-width="0.35"/></g>
<g transform="translate(262.75,1191.35) rotate(-113.2)"><use href="#leaf" transform="scale(14.47,9.90)" fill="#45a93f"/><line x1="-7.23" y1="0" x2="6.23" y2="0" stroke="#63ba5b" stroke-width="0.5"/><line x1="-2.89" y1="0" x2="-0.43" y2="-3.56" stroke="#63ba5b" stroke-width="0.35"/><line x1="-2.89" y1="0" x2="-0.43" y2="3.56" stroke="#63ba5b" stroke-width="0.35"/><line x1="0.00" y1="0" x2="2.46" y2="-3.56" stroke="#63ba5b" stroke-width="0.35"/><line x1="0.00" y1="0" x2="2.46" y2="3.56" stroke="#63ba5b" stroke-width="0.35"/><line x1="2.89" y1="0" x2="5.35" y2="-3.56" stroke="#63ba5b" stroke-width="0.35"/><line x1="2.89" y1="0" x2="5.35" y2="3.56" stroke="#63ba5b" stroke-width="0.35"/></g>
<g transform="translate(250.55,1204.90) rotate(155.1)"><use href="#leaf" transform="scale(23.71,12.40)" fill="#45a93f"/><line x1="-11.86" y1="0" x2="10.86" y2="0" stroke="#63ba5b" stroke-width="0.5"/><line x1="-4.74" y1="0" x2="-0.71" y2="-4.46" stroke="#63ba5b" stroke-width="0.35"/><line x1="-4.74" y1="0" x2="-0.71" y2="4.46" stroke="#63ba5b" stroke-width="0.35"/><line x1="0.00" y1="0" x2="4.03" y2="-4.46" stroke="#63ba5b" stroke-width="0.35"/><line x1="0.00" y1="0" x2="4.03" y2="4.46" stroke="#63ba5b" stroke-width="0.35"/><line x1="4.74" y1="0" x2="8.77" y2="-4.46" stroke="#63ba5b" stroke-width="0.35"/><line x1="4.74" y1="0" x2="8.77" y2="4.46" stroke="#63ba5b" stroke-width="0.35"/></g>
<g transform="translate(265.55,1210.30) rotate(73.6)"><use href="#leaf" transform="scale(16.68,12.40)" fill="#45a93f"/><line x1="-8.34" y1="0" x2="7.34" y2="0" stroke="#63ba5b" stroke-width="0.5"/><line x1="-3.34" y1="0" x2="-0.50" y2="-4.46" stroke="#63ba5b" stroke-width="0.35"/><line x1="-3.34" y1="0" x2="-0.50" y2="4.46" stroke="#63ba5b" stroke-width="0.35"/><line x1="0.00" y1="0" x2="2.83" y2="-4.46" stroke="#63ba5b" stroke-width="0.35"/><line x1="0.00" y1="0" x2="2.83" y2="4.46" stroke="#63ba5b" stroke-width="0.35"/><line x1="3.34" y1="0" x2="6.17" y2="-4.46" stroke="#63ba5b" stroke-width="0.35"/><line x1="3.34" y1="0" x2="6.17" y2="4.46" stroke="#63ba5b" stroke-width="0.35"/></g>
<g transform="translate(298.10,1205.10) rotate(-68.4)"><use href="#leaf" transform="scale(9.25,6.10)" fill="#45a93f"/><line x1="-4.62" y1="0" x2="3.62" y2="0" stroke="#63ba5b" stroke-width="0.5"/><line x1="-1.85" y1="0" x2="-0.28" y2="-2.20" stroke="#63ba5b" stroke-width="0.35"/><line x1="-1.85" y1="0" x2="-0.28" y2="2.20" stroke="#63ba5b" stroke-width="0.35"/><line x1="0.00" y1="0" x2="1.57" y2="-2.20" stroke="#63ba5b" stroke-width="0.35"/><line x1="0.00" y1="0" x2="1.57" y2="2.20" stroke="#63ba5b" stroke-width="0.35"/><line x1="1.85" y1="0" x2="3.42" y2="-2.20" stroke="#63ba5b" stroke-width="0.35"/><line x1="1.85" y1="0" x2="3.42" y2="2.20" stroke="#63ba5b" stroke-width="0.35"/></g>
<g transform="translate(304.65,1212.25) rotate(8.5)"><use href="#leaf" transform="scale(12.84,8.00)" fill="#45a93f"/><line x1="-6.42" y1="0" x2="5.42" y2="0" stroke="#63ba5b" stroke-width="0.5"/><line x1="-2.57" y1="0" x2="-0.39" y2="-2.88" stroke="#63ba5b" stroke-width="0.35"/><line x1="-2.57" y1="0" x2="-0.39" y2="2.88" stroke="#63ba5b" stroke-width="0.35"/><line x1="0.00" y1="0" x2="2.18" y2="-2.88" stroke="#63ba5b" stroke-width="0.35"/><line x1="0.00" y1="0" x2="2.18" y2="2.88" stroke="#63ba5b" stroke-width="0.35"/><line x1="2.57" y1="0" x2="4.75" y2="-2.88" stroke="#63ba5b" stroke-width="0.35"/><line x1="2.57" y1="0" x2="4.75" y2="2.88" stroke="#63ba5b" stroke-width="0.35"/></g>
<g transform="translate(296.20,1218.10) rotate(88.1)"><use href="#leaf" transform="scale(11.81,7.20)" fill="#45a93f"/><line x1="-5.90" y1="0" x2="4.90" y2="0" stroke="#63ba5b" stroke-width="0.5"/><line x1="-2.36" y1="0" x2="-0.35" y2="-2.59" stroke="#63ba5b" stroke-width="0.35"/><line x1="-2.36" y1="0" x2="-0.35" y2="2.59" stroke="#63ba5b" stroke-width="0.35"/><line x1="0.00" y1="0" x2="2.01" y2="-2.59" stroke="#63ba5b" stroke-width="0.35"/><line x1="0.00" y1="0" x2="2.01" y2="2.59" stroke="#63ba5b" stroke-width="0.35"/><line x1="2.36" y1="0" x2="4.37" y2="-2.59" stroke="#63ba5b" stroke-width="0.35"/><line x1="2.36" y1="0" x2="4.37" y2="2.59" stroke="#63ba5b" stroke-width="0.35"/></g>
<circle cx="272.9" cy="1133.4" r="2.5" fill="#8e69ab"/>
<circle cx="275.6" cy="1137.8" r="1.9" fill="#9aa85a"/>
<circle cx="277" cy="1198.5" r="1.8" fill="#9aa85a"/>
<circle cx="277.8" cy="1202" r="1.5" fill="#8a9a3c"/>
<circle cx="284.3" cy="1210.5" r="1.5" fill="#9aa85a"/>
<g transform="translate(279.7,1238.8)"><g fill="none" stroke="#c98f63" stroke-linecap="round">
<path d="M-0.7,0 L0.7,0 L0.1,37.5 Z" fill="#c8834f" stroke="#c8834f" stroke-width="0.5"/>
<g stroke-width="0.55" stroke="#cda888" opacity="0.7">
<path d="M-0.3,4 L-6,9 L-12,8 L-17,12 L-22,12"/><path d="M-6,9 L-9,14 L-14,16"/>
<path d="M-0.3,15 L-7,20 L-13,24 L-17,24"/><path d="M-7,20 L-8,26"/>
<path d="M-0.3,24 L-5,28 L-9,32"/>
<path d="M0.3,3 L6,8 L14,7 L20,10 L26,10"/><path d="M6,8 L10,13 L17,15 L23,19"/>
<path d="M0.3,13 L8,19 L15,21 L21,25"/><path d="M8,19 L10,25"/>
<path d="M0.3,22 L6,28 L12,30 L17,34"/><path d="M0,30 L4,35"/>
</g>
<g stroke-width="0.35" stroke="#cdb59c" opacity="0.45">
<path d="M-17,12 L-21,7 M-12,8 L-15,3 M-22,12 L-26,14 M-14,16 L-19,19 M-17,24 L-22,27 M-13,24 L-15,29 M-9,32 L-12,35"/>
<path d="M14,7 L17,2 M20,10 L25,6 M26,10 L30,12 M23,19 L28,20 M17,15 L21,13 M21,25 L26,27 M15,21 L19,19 M17,34 L21,36 M12,30 L14,34"/>
</g></g></g>
<use href="#ptop" transform="translate(804.1,1055.3) scale(0.965) translate(-281.2,-1028.3)"/>
<g transform="translate(802.9,1169) scale(0.88)"><g fill="none" stroke="#c98f63" stroke-linecap="round">
<path d="M-0.7,0 L0.7,0 L0.1,37.5 Z" fill="#c8834f" stroke="#c8834f" stroke-width="0.5"/>
<g stroke-width="0.55" stroke="#cda888" opacity="0.7">
<path d="M-0.3,4 L-6,9 L-12,8 L-17,12 L-22,12"/><path d="M-6,9 L-9,14 L-14,16"/>
<path d="M-0.3,15 L-7,20 L-13,24 L-17,24"/><path d="M-7,20 L-8,26"/>
<path d="M-0.3,24 L-5,28 L-9,32"/>
<path d="M0.3,3 L6,8 L14,7 L20,10 L26,10"/><path d="M6,8 L10,13 L17,15 L23,19"/>
<path d="M0.3,13 L8,19 L15,21 L21,25"/><path d="M8,19 L10,25"/>
<path d="M0.3,22 L6,28 L12,30 L17,34"/><path d="M0,30 L4,35"/>
</g>
<g stroke-width="0.35" stroke="#cdb59c" opacity="0.45">
<path d="M-17,12 L-21,7 M-12,8 L-15,3 M-22,12 L-26,14 M-14,16 L-19,19 M-17,24 L-22,27 M-13,24 L-15,29 M-9,32 L-12,35"/>
<path d="M14,7 L17,2 M20,10 L25,6 M26,10 L30,12 M23,19 L28,20 M17,15 L21,13 M21,25 L26,27 M15,21 L19,19 M17,34 L21,36 M12,30 L14,34"/>
</g></g></g>
</svg></body></html>
